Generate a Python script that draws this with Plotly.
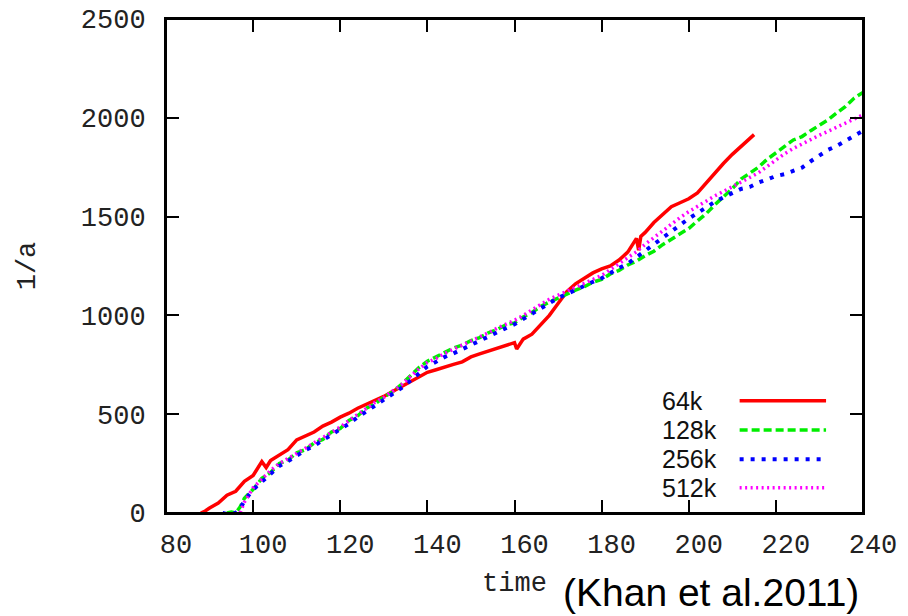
import plotly.graph_objects as go

# ---------------------------------------------------------------- data
t_64k = [88, 89, 90, 92, 94, 96, 98, 100, 102, 103, 104, 106, 108, 110, 112, 114, 116, 118,
         120, 122, 124, 126, 128, 130, 132, 134, 136, 138, 140, 142, 144, 146, 148, 150, 152,
         154, 156, 158, 160, 160.5, 162, 164, 166, 168, 170, 172, 174, 176, 178, 180, 182, 184,
         186, 188, 188.5, 189, 190, 192, 194, 196, 198, 200, 202, 204, 206, 208, 210, 212, 214, 215]
v_64k = [0, 10, 25, 50, 90, 110, 160, 190, 260, 230, 265, 290, 320, 370, 390, 410, 440, 460,
         485, 505, 530, 550, 570, 590, 615, 640, 665, 690, 712, 725, 740, 752, 765, 790, 805,
         820, 835, 850, 862, 830, 880, 905, 950, 1000, 1060, 1120, 1160, 1190, 1215, 1235, 1250, 1280,
         1320, 1390, 1330, 1400, 1420, 1470, 1510, 1550, 1570, 1590, 1620, 1670, 1725, 1770, 1815, 1855, 1895, 1915]

t_128k = [94, 95, 96, 97, 98] + list(range(100, 241, 2))
v_128k = [0, 5, 0, 30, 75, 120, 175, 205, 250, 268, 305, 320, 355, 372, 410, 428, 468, 492,
          530, 552, 588, 612, 650, 690, 735, 768, 790, 812, 835, 850, 872, 888, 912, 928, 952,
          962, 992, 1015, 1045, 1068, 1090, 1108, 1128, 1145, 1168, 1182, 1210, 1228, 1255, 1275,
          1302, 1325, 1358, 1385, 1415, 1440, 1478, 1515, 1560, 1600, 1642, 1690, 1718, 1750, 1790,
          1820, 1855, 1888, 1905, 1935, 1962, 1990, 2025, 2058, 2100, 2128]

t_256k = [93, 94, 95, 96, 97, 98] + list(range(100, 241, 2))
v_256k = [0, -5, 0, 0, 20, 62, 118, 160, 200, 238, 262, 290, 318, 340, 368, 398, 420, 452, 485,
          515, 545, 570, 600, 632, 668, 705, 742, 765, 790, 808, 830, 850, 870, 892, 915, 935, 955,
          982, 1010, 1040, 1065, 1088, 1108, 1130, 1148, 1170, 1188, 1215, 1240, 1262, 1295, 1325,
          1360, 1395, 1425, 1462, 1490, 1518, 1548, 1575, 1598, 1618, 1640, 1650, 1672, 1688, 1705,
          1715, 1732, 1748, 1780, 1812, 1838, 1858, 1885, 1910, 1935]

t_512k = [96, 97, 98, 99] + list(range(100, 241, 2))
v_512k = [-15, 0, 55, 95, 128, 172, 215, 250, 275, 305, 328, 355, 380, 410, 435, 468, 500, 532,
          560, 585, 615, 648, 688, 728, 762, 782, 808, 828, 848, 868, 890, 912, 935, 955, 975, 1000,
          1030, 1055, 1082, 1102, 1122, 1142, 1162, 1182, 1202, 1232, 1262, 1290, 1322, 1360, 1395,
          1430, 1462, 1495, 1525, 1552, 1580, 1605, 1628, 1650, 1675, 1698, 1722, 1755, 1790, 1818,
          1845, 1868, 1890, 1912, 1932, 1952, 1975, 1995, 2015]

x_ticks = list(range(80, 241, 20))
y_ticks = list(range(0, 2501, 500))

names = ["64k", "128k", "256k", "512k"]
colors = ["#ff0000", "#00ee00", "#0000ff", "#ff00ff"]
dashes = ["solid", "8px,4px", "4px,7px", "2px,3.5px"]
widths = [3.5, 3.5, 4, 3.5]

MONO = "Liberation Mono, Courier New, monospace"

fig = go.Figure()
for t, v, name, c, d, w in zip([t_64k, t_128k, t_256k, t_512k], [v_64k, v_128k, v_256k, v_512k],
                               names, colors, dashes, widths):
    fig.add_trace(go.Scatter(x=t, y=v, mode="lines", name=name, showlegend=False,
                             line=dict(color=c, dash=d, width=w)))

# gnuplot-style key: label on the left, line sample on the right
key_y = [0.227, 0.168, 0.109, 0.051]
for name, c, d, w, ky in zip(names, colors, dashes, widths, key_y):
    fig.add_annotation(xref="paper", yref="paper", x=0.709, y=ky, text=name, showarrow=False,
                       xanchor="left", yanchor="middle", font=dict(family="Arial", size=25, color="#111"))
    fig.add_shape(type="line", xref="paper", yref="paper", x0=0.823, x1=0.947, y0=ky, y1=ky,
                  line=dict(color=c, dash=d, width=w))

# frame around the plot area
fig.add_shape(type="rect", xref="paper", yref="paper", x0=0, x1=1, y0=0, y1=1,
              line=dict(color="black", width=2), layer="above")

fig.add_annotation(xref="paper", yref="paper", x=0.566, y=-0.16, text="(Khan et al.2011)",
                   showarrow=False, xanchor="left", yanchor="middle",
                   font=dict(family="Arial", size=39, color="#000"))

axis_common = dict(showgrid=False, zeroline=False, showline=True, linecolor="black", linewidth=2,
                   mirror="allticks", ticks="inside", ticklen=13, tickwidth=2, tickcolor="black",
                   automargin=False, ticklabeloverflow="allow",
                   tickfont=dict(family=MONO, size=27, color="#222"))

fig.update_xaxes(range=[80, 240], tickvals=x_ticks, ticklabelstandoff=6,
                 ticklabelshift=10,
                 title=dict(text="time", font=dict(family=MONO, size=27, color="#222"), standoff=12),
                 **axis_common)
fig.update_yaxes(range=[0, 2500], tickvals=y_ticks, ticklabelstandoff=13,
                 title=dict(text="1/a", font=dict(family=MONO, size=27, color="#222"), standoff=37),
                 **axis_common)

# top ticks drawn by a second x axis
fig.update_layout(xaxis2=dict(overlaying="x", side="top", anchor="y", range=[80, 240],
                              tickvals=x_ticks, ticks="inside", ticklen=13, tickwidth=2,
                              tickcolor="black", showticklabels=False, showgrid=False,
                              zeroline=False, showline=True, linecolor="black", linewidth=2,
                              automargin=False))

# the page body adds an 8px offset, so margins are trimmed by that much
fig.update_layout(width=908, height=616, plot_bgcolor="white", paper_bgcolor="white",
                  margin=dict(l=158, r=53, t=11, b=111))

fig.write_html("out.html")
